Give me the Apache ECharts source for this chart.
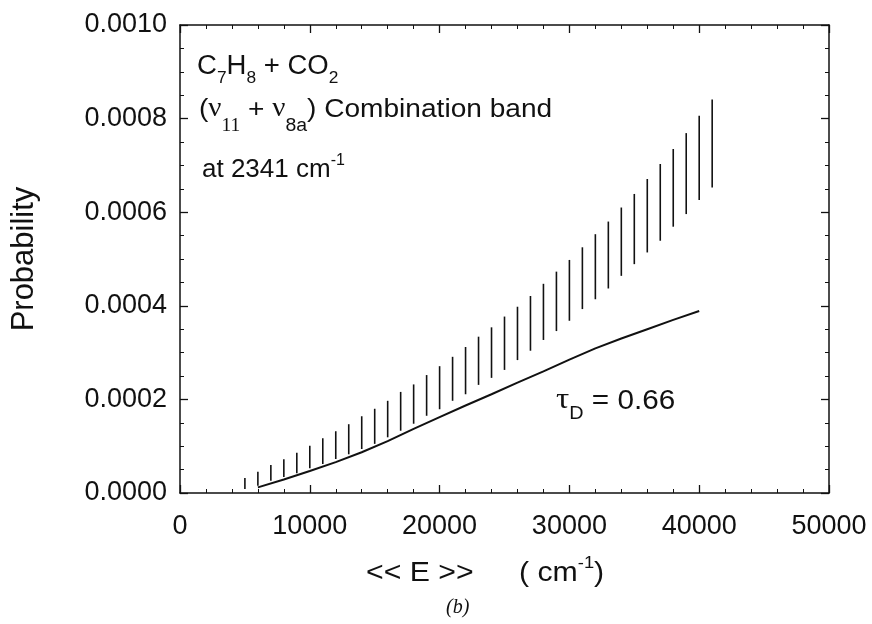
<!DOCTYPE html>
<html>
<head>
<meta charset="utf-8">
<title>Probability vs E</title>
<script src="https://cdn.jsdelivr.net/npm/echarts@6/dist/echarts.min.js"></script>
<style>
  html, body { margin: 0; padding: 0; background: #fff; }
  #chart { width: 872px; height: 624px; }
</style>
</head>
<body>
<div id="chart"></div>
<script>
// vertical bars: energy (cm-1), lower and upper end
const barE = [5000, 6000, 7000, 8000, 9000, 10000, 11000, 12000, 13000, 14000,
  15000, 16000, 17000, 18000, 19000, 20000, 21000, 22000, 23000, 24000,
  25000, 26000, 27000, 28000, 29000, 30000, 31000, 32000, 33000, 34000,
  35000, 36000, 37000, 38000, 39000, 40000, 41000]
const barLow = [0.0000085, 0.0000156, 0.000026, 0.000034, 0.000042, 0.000053, 0.000062, 0.0000726, 0.0000827, 0.000094,
  0.000105, 0.000119, 0.000133, 0.000148, 0.000165, 0.000179, 0.000197, 0.000211, 0.000231, 0.000246,
  0.000263, 0.000284, 0.000304, 0.000327, 0.000346, 0.000368, 0.000393, 0.000414, 0.000437, 0.000464,
  0.000489, 0.000514, 0.000539, 0.000569, 0.000596, 0.000626, 0.000653]
const barHigh = [0.000032, 0.0000455, 0.0000598, 0.000072, 0.0000861, 0.000101, 0.000117, 0.000132, 0.000147, 0.000164,
  0.00018, 0.000197, 0.000216, 0.000232, 0.000252, 0.000271, 0.000291, 0.000312, 0.000334, 0.000354,
  0.000377, 0.000398, 0.000421, 0.000447, 0.000473, 0.000498, 0.000525, 0.000553, 0.00058, 0.00061,
  0.000639, 0.000671, 0.000703, 0.000735, 0.000769, 0.000806, 0.000841]

// solid curve (tau_D = 0.66)
const lineE = [6000, 8000, 10000, 12000, 14000, 16000, 18000, 20000, 22000, 24000,
  26000, 28000, 30000, 32000, 34000, 36000, 38000, 40000]
const lineP = [0.000012, 0.000029, 0.000047, 0.000066, 0.000087, 0.000111, 0.000137, 0.000162, 0.000187, 0.000211,
  0.000236, 0.00026, 0.000285, 0.000309, 0.00033, 0.00035, 0.00037, 0.000389]

const xTicks = { min: 0, max: 50000, interval: 10000 }
const yTicks = { min: 0, max: 0.001, interval: 0.0002 }

const SANS = "'Liberation Sans', Arial, Helvetica, sans-serif"
const SERIF = "'Liberation Serif', 'Times New Roman', serif"
const INK = '#111'

const chart = echarts.init(document.getElementById('chart'))

// lay out a row of text pieces (sub/superscripts) from a left x and a baseline y
const ctx = document.createElement('canvas').getContext('2d')
function textRun (x, y, parts, sx) {
  const out = []
  let cx = x
  sx = sx || 1
  parts.forEach(p => {
    ctx.font = p.font
    const w = ctx.measureText(p.t).width * sx
    const size = parseFloat(p.font.match(/(\d+)px/)[1])
    out.push({
      type: 'text',
      x: cx,
      y: y + (p.dy || 0) - size * 0.33,
      scaleX: sx,
      style: { text: p.t, font: p.font, fill: INK, align: 'left', verticalAlign: 'middle' }
    })
    cx += w
  })
  return out
}

const f = (size, fam, style) => (style || '') + ' ' + size + 'px ' + (fam || SANS)

const graphics = [].concat(
  textRun(197, 75, [
    { t: 'C', font: f(27) },
    { t: '7', font: f(17), dy: 9 },
    { t: 'H', font: f(27) },
    { t: '8', font: f(17), dy: 9 },
    { t: ' + ', font: f(27) },
    { t: 'CO', font: f(27) },
    { t: '2', font: f(17), dy: 9 }
  ], 1.02),
  textRun(199, 118, [
    { t: '(', font: f(26) },
    { t: 'ν', font: f(27, SERIF) },
    { t: '11', font: f(18, SERIF), dy: 14 },
    { t: ' + ', font: f(26) },
    { t: 'ν', font: f(27, SERIF) },
    { t: '8a', font: f(18), dy: 14 },
    { t: ')', font: f(26) },
    { t: ' Combination band', font: f(26) }
  ], 1.08),
  textRun(202, 178, [
    { t: 'at 2341 cm', font: f(26) },
    { t: '-1', font: f(16), dy: -12 }
  ], 1.0),
  textRun(556, 410, [
    { t: 'τ', font: f(30, SERIF) },
    { t: 'D', font: f(18), dy: 10 },
    { t: ' = 0.66', font: f(27) }
  ], 1.1),
  textRun(366, 583, [
    { t: '<< E >>', font: f(28) }
  ], 1.08),
  textRun(519, 583, [
    { t: '( cm', font: f(28) },
    { t: '-1', font: f(17), dy: -14 },
    { t: ')', font: f(28) }
  ], 1.08),
  textRun(446, 614, [
    { t: '(b)', font: f(20, SERIF, 'italic') }
  ]),
  [{
    type: 'text',
    x: 24,
    y: 259,
    rotation: Math.PI / 2,
    style: { text: 'Probability', font: f(31), fill: INK, align: 'center', verticalAlign: 'middle' }
  }]
)

const axisLine = { show: true, onZero: false, lineStyle: { color: INK, width: 1.5 } }
const tick = { show: true, inside: true, length: 8, lineStyle: { color: INK, width: 1.3 } }
const minor = (n) => ({ show: true, splitNumber: n, length: 4, lineStyle: { color: INK, width: 1 } })

chart.setOption({
  animation: false,
  backgroundColor: '#fff',
  grid: { left: 180, right: 43, top: 25, bottom: 131 },
  xAxis: [
    {
      type: 'value',
      position: 'bottom',
      ...xTicks,
      axisLine: axisLine,
      axisTick: tick,
      minorTick: minor(5),
      splitLine: { show: false },
      axisLabel: { color: INK, fontSize: 27, fontFamily: SANS, margin: 20, formatter: v => String(v) }
    },
    {
      type: 'value',
      position: 'top',
      ...xTicks,
      axisLine: axisLine,
      axisTick: tick,
      minorTick: minor(5),
      splitLine: { show: false },
      axisLabel: { show: false }
    }
  ],
  yAxis: [
    {
      type: 'value',
      position: 'left',
      ...yTicks,
      axisLine: axisLine,
      axisTick: tick,
      minorTick: minor(4),
      splitLine: { show: false },
      axisLabel: {
        color: INK,
        fontSize: 27,
        fontFamily: SANS,
        margin: 13,
        formatter: v => v.toFixed(4)
      }
    },
    {
      type: 'value',
      position: 'right',
      ...yTicks,
      axisLine: axisLine,
      axisTick: tick,
      minorTick: minor(4),
      splitLine: { show: false },
      axisLabel: { show: false }
    }
  ],
  graphic: graphics,
  series: [
    {
      name: 'bars',
      type: 'custom',
      xAxisIndex: 0,
      yAxisIndex: 0,
      data: barE.map((e, i) => [e, barLow[i], barHigh[i]]),
      encode: { x: 0, y: [1, 2] },
      renderItem (params, api) {
        const p1 = api.coord([api.value(0), api.value(1)])
        const p2 = api.coord([api.value(0), api.value(2)])
        return {
          type: 'line',
          shape: { x1: p1[0], y1: p1[1], x2: p2[0], y2: p2[1] },
          style: { stroke: INK, lineWidth: 1.6 }
        }
      }
    },
    {
      name: 'tauD',
      type: 'line',
      xAxisIndex: 0,
      yAxisIndex: 0,
      data: lineE.map((e, i) => [e, lineP[i]]),
      showSymbol: false,
      symbol: 'none',
      lineStyle: { color: INK, width: 2 }
    }
  ]
})
</script>
</body>
</html>
